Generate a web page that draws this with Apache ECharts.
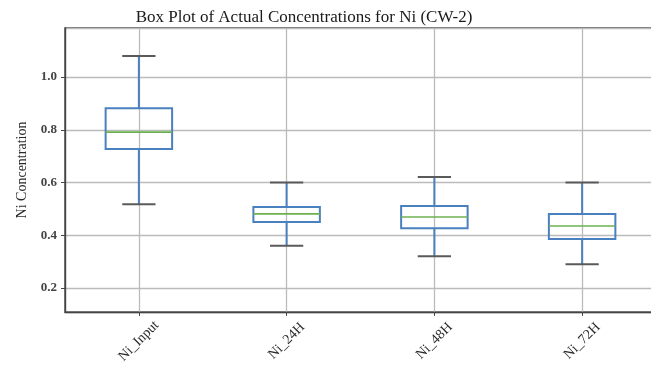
<!DOCTYPE html>
<html>
<head>
<meta charset="utf-8">
<script src="https://cdn.jsdelivr.net/npm/echarts@6/dist/echarts.min.js"></script>
<style>
html,body{margin:0;padding:0;background:#fff;}
#chart{width:651px;height:365px;}
</style>
</head>
<body>
<div id="chart"></div>
<script>
var categories = ['Ni_Input', 'Ni_24H', 'Ni_48H', 'Ni_72H'];
var whiskerLow = [0.518, 0.36, 0.32, 0.29];
var q1 = [0.727, 0.450, 0.427, 0.386];
var median = [0.791, 0.481, 0.469, 0.435];
var q3 = [0.882, 0.507, 0.511, 0.481];
var whiskerHigh = [1.08, 0.60, 0.621, 0.60];
var yTickLabels = ['0.2', '0.4', '0.6', '0.8', '1.0'];

var FONT = '"Liberation Serif", "DejaVu Serif", serif';
var BOX = '#4a80bf', CAP = '#5a5a5a', MED = '#6cb050';

var data = categories.map(function (c, i) {
  return [i, whiskerLow[i], q1[i], median[i], q3[i], whiskerHigh[i]];
});

function renderItem(params, api) {
  var i = api.value(0);
  var band = api.size([1, 0])[0];
  var bw = band * 0.45, cw = bw * 0.5;
  var lo = api.coord([i, api.value(1)]);
  var b1 = api.coord([i, api.value(2)]);
  var md = api.coord([i, api.value(3)]);
  var b3 = api.coord([i, api.value(4)]);
  var hi = api.coord([i, api.value(5)]);
  var x = lo[0];
  return {
    type: 'group',
    children: [
      {type: 'line', shape: {x1: x, y1: lo[1], x2: x, y2: b1[1]}, style: {stroke: BOX, lineWidth: 2}},
      {type: 'line', shape: {x1: x, y1: b3[1], x2: x, y2: hi[1]}, style: {stroke: BOX, lineWidth: 2}},
      {type: 'rect', shape: {x: x - bw / 2, y: b3[1], width: bw, height: b1[1] - b3[1]}, style: {stroke: BOX, fill: null, lineWidth: 2}},
      {type: 'line', shape: {x1: x - bw / 2, y1: md[1], x2: x + bw / 2, y2: md[1]}, style: {stroke: MED, lineWidth: 1.6}},
      {type: 'line', shape: {x1: x - cw / 2, y1: lo[1], x2: x + cw / 2, y2: lo[1]}, style: {stroke: CAP, lineWidth: 2}},
      {type: 'line', shape: {x1: x - cw / 2, y1: hi[1], x2: x + cw / 2, y2: hi[1]}, style: {stroke: CAP, lineWidth: 2}}
    ]
  };
}

var chart = echarts.init(document.getElementById('chart'), null, {renderer: 'canvas'});
chart.setOption({
  animation: false,
  backgroundColor: '#fff',
  title: {
    text: 'Box Plot of Actual Concentrations for Ni (CW-2)',
    left: 299, top: 4, textAlign: 'center',
    textStyle: {fontFamily: FONT, fontSize: 17, fontWeight: 'normal', color: '#1a1a1a'}
  },
  grid: {left: 65, width: 591, top: 28, height: 284, outerBoundsMode: 'none', containLabel: false, show: true, borderColor: '#444', borderWidth: 1.4, backgroundColor: 'transparent'},
  xAxis: {
    type: 'category',
    data: categories,
    boundaryGap: true,
    axisLine: {show: true, lineStyle: {color: '#444', width: 1.4}},
    axisTick: {show: true, alignWithLabel: true, length: 4, lineStyle: {color: '#444'}},
    splitLine: {show: true, alignWithLabel: true, lineStyle: {color: '#bbbbbb', width: 1.3}},
    axisLabel: {
      rotate: 45, margin: 29, align: 'center', verticalAlign: 'middle',
      fontFamily: FONT, fontSize: 14, color: '#2a2a2a'
    }
  },
  yAxis: {
    type: 'value',
    min: 0.109, max: 1.186,
    splitNumber: 5,
    name: 'Ni Concentration',
    nameLocation: 'middle',
    nameGap: 36,
    nameTextStyle: {fontFamily: FONT, fontSize: 14, color: '#2a2a2a'},
    axisLine: {show: true, lineStyle: {color: '#444', width: 1.4}},
    axisTick: {show: true, length: 4, lineStyle: {color: '#444'}},
    splitLine: {show: true, lineStyle: {color: '#bbbbbb', width: 1.3}},
    axisLabel: {
      showMinLabel: false, showMaxLabel: false, margin: 8,
      fontFamily: FONT, fontSize: 13, fontWeight: 'bold', color: '#444',
      formatter: function (v) {
        var s = v.toFixed(1);
        return yTickLabels.indexOf(s) >= 0 && Math.abs(v - parseFloat(s)) < 1e-6 ? s : '';
      }
    }
  },
  series: [{
    type: 'custom',
    renderItem: renderItem,
    encode: {x: 0, y: [1, 2, 3, 4, 5]},
    data: data,
    clip: true
  }]
});
</script>
</body>
</html>
